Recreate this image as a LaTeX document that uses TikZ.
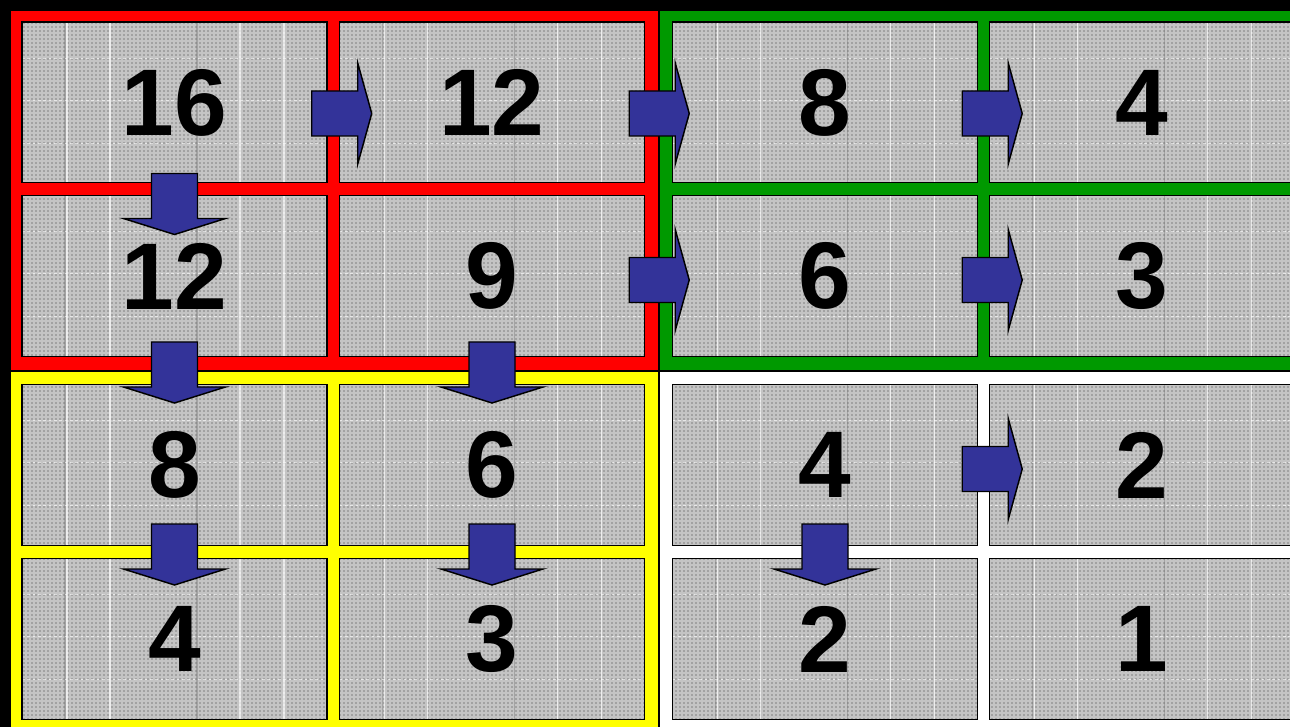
\documentclass[tikz,border=0pt]{standalone}
\usepackage{fontspec}
\setmainfont{Liberation Sans}
\usetikzlibrary{patterns}
\definecolor{arrowblue}{HTML}{333399}
\definecolor{qred}{HTML}{FF0000}
\definecolor{qgreen}{HTML}{009900}
\definecolor{qyellow}{HTML}{FFFF00}
\definecolor{cellgray}{HTML}{C4C4C4}
\tikzset{
  frame/.style={draw=black, line width=1.3pt},
  cellbox/.style={draw=black, line width=1.1pt,
    minimum width=228.75pt, minimum height=120.4pt, inner sep=0pt,
    preaction={fill=cellgray},
    pattern=dots, pattern color=black!80,
    font=\fontsize{71}{71}\selectfont\bfseries,
    path picture={
      \foreach \o in {45,88,218,262}
        \draw[white, opacity=.7, line width=1.1pt]
          ([xshift=\o*0.75pt]path picture bounding box.north west) --
          ([xshift=\o*0.75pt]path picture bounding box.south west);
      \foreach \o in {43,175}
        \draw[black!60, opacity=.35, line width=0.8pt]
          ([xshift=\o*0.75pt]path picture bounding box.north west) --
          ([xshift=\o*0.75pt]path picture bounding box.south west);
      \foreach \o in {36,78,121}
        \draw[white, opacity=.6, line width=0.8pt, dash pattern=on 2pt off 2pt]
          ([yshift=-\o*0.75pt]path picture bounding box.north west) --
          ([yshift=-\o*0.75pt]path picture bounding box.north east);
    }},
  blockarrow/.style={fill=arrowblue, draw=black, line width=1.1pt, line join=miter}
}
\newcommand\rarr[2]{%
  \draw[blockarrow] ([shift={(-16,#2-22.5)}]#1.east) -- ++(46,0) -- ++(0,-28)
    -- ++(14,50.5) -- ++(-14,50.5) -- ++(0,-28) -- ++(-46,0) -- cycle;}
\newcommand\darr[2]{%
  \draw[blockarrow] ([shift={(-23,#2)}]#1.south) -- ++(46,0) -- ++(0,45)
    -- ++(28,0) -- ++(-51,16) -- ++(-51,-16) -- ++(28,0) -- cycle;}
\begin{document}
\begin{tikzpicture}[x=0.75pt,y=-0.75pt]
\useasboundingbox (0,0) rectangle (1290,727);
\clip (0,0) rectangle (1290,727);
\fill[black] (0,0) rectangle (1290,727);
% quadrant frames
\filldraw[frame, fill=qred] (10,10) rectangle (658.5,370.5);
\filldraw[frame, fill=qgreen] (659.5,10) rectangle (1310,370.5);
\filldraw[frame, fill=qyellow] (10,371.5) rectangle (658.5,740);
\filldraw[frame, fill=white] (659.5,371.5) rectangle (1310,740);
% cells
\node[cellbox] (c11) at (174.5,102.5) {16};
\node[cellbox] (c12) at (492,102.5) {12};
\node[cellbox] (c13) at (825,102.5) {8};
\node[cellbox] (c14) at (1142,102.5) {4};
\node[cellbox] (c21) at (174.5,276) {12};
\node[cellbox] (c22) at (492,276) {9};
\node[cellbox] (c23) at (825,276) {6};
\node[cellbox] (c24) at (1142,276) {3};
\node[cellbox] (c31) at (174.5,465) {8};
\node[cellbox] (c32) at (492,465) {6};
\node[cellbox] (c33) at (825,465) {4};
\node[cellbox] (c34) at (1142,465) {2};
\node[cellbox] (c41) at (174.5,639) {4};
\node[cellbox] (c42) at (492,639) {3};
\node[cellbox] (c43) at (825,639) {2};
\node[cellbox] (c44) at (1142,639) {1};
% arrows
\rarr{c11}{11}
\rarr{c12}{11}
\rarr{c13}{11}
\rarr{c22}{4}
\rarr{c23}{4}
\rarr{c33}{4}
\darr{c11}{-10}
\darr{c21}{-15}
\darr{c22}{-15}
\darr{c31}{-22}
\darr{c32}{-22}
\darr{c33}{-22}
\end{tikzpicture}
\end{document}
